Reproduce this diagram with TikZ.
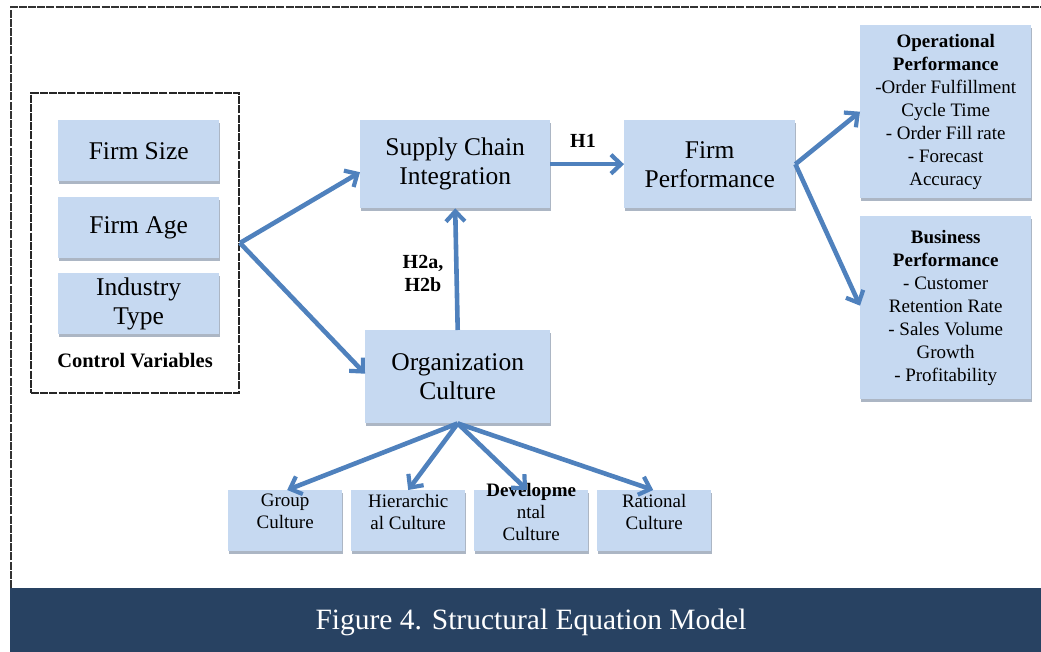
\documentclass[tikz,border=0pt]{standalone}
\usepackage{fontspec}
\setmainfont{Liberation Serif}
\usetikzlibrary{arrows.meta,shadows}
\definecolor{boxblue}{RGB}{198,217,241}
\definecolor{arrowblue}{RGB}{79,129,189}
\definecolor{bandcol}{RGB}{40,66,98}
\definecolor{shadecol}{RGB}{172,182,196}
\begin{document}
\begin{tikzpicture}[x=1pt,y=-1pt,
  box/.style={fill=boxblue, inner sep=0pt, align=center, anchor=north west,
    drop shadow={shadow xshift=1pt,shadow yshift=-2.5pt,fill=shadecol,opacity=1}},
  bigtxt/.style={font=\fontsize{25.5}{29}\selectfont},
  smalltxt/.style={font=\fontsize{19}{22}\selectfont, align=center},
  sidetxt/.style={font=\fontsize{19}{23}\selectfont},
  hlabel/.style={font=\fontsize{20}{23}\selectfont\bfseries, align=center},
  arr/.style={draw=arrowblue, line width=4.6pt,
    -{Straight Barb[length=10pt,width=19pt,line width=4.2pt]}},
  frame/.style={draw=black!80, line width=2pt, dash pattern=on 8pt off 1.2pt}
]
\useasboundingbox (0,0) rectangle (1041,652);
% outer frame and band
\draw[frame] (11,588) -- (11,7) -- (1041,7);
\fill[bandcol] (10,588) rectangle (1041,652);
\node[text=white, font=\fontsize{29.5}{33}\selectfont] (title) at (531,622) {Figure 4. Structural Equation Model};

% control variables
\node[draw=black!85, line width=2pt, dash pattern=on 8pt off 1.2pt, minimum width=208pt, minimum height=300pt, anchor=north west, inner sep=0pt] (ctrl) at (30,92) {};
\node[box, bigtxt, minimum width=161pt, minimum height=61pt] (size) at (58,120) {Firm Size};
\node[box, bigtxt, minimum width=161pt, minimum height=61pt] (age) at (58,197) {Firm Age};
\node[box, bigtxt, minimum width=161pt, minimum height=61pt] (ind) at (58,273) {Industry\\Type};
\node[font=\fontsize{20.5}{23}\selectfont\bfseries] (ctrllab) at (135,361) {Control Variables};

% main boxes
\node[box, bigtxt, minimum width=190pt, minimum height=88pt] (sci) at (360,120) {Supply Chain\\Integration};
\node[box, bigtxt, minimum width=171pt, minimum height=88pt] (fp) at (624,120) {Firm\\Performance};
\node[box, bigtxt, minimum width=185pt, minimum height=93pt] (org) at (365,330) {Organization\\Culture};

% right boxes
\node[box, sidetxt, minimum width=171pt, minimum height=173pt] (op) at (860,25)
  {\textbf{Operational}\\\textbf{Performance}\\-Order Fulfillment\\Cycle Time\\- Order Fill rate\\- Forecast\\Accuracy};
\node[box, sidetxt, minimum width=171pt, minimum height=183pt] (bp) at (860,216)
  {\textbf{Business}\\\textbf{Performance}\\- Customer\\Retention Rate\\- Sales Volume\\Growth\\- Profitability};

% culture types
\node[box, minimum width=114pt, minimum height=61pt] (grp) at (228,490) {};
\node[box, minimum width=114pt, minimum height=61pt] (hier) at (351,490) {};
\node[box, minimum width=114pt, minimum height=61pt] (dev) at (474,490) {};
\node[box, minimum width=114pt, minimum height=61pt] (rat) at (597,490) {};
\node[smalltxt] (grptxt) at ([yshift=9pt]grp.center) {Group\\Culture};
\node[smalltxt] (hiertxt) at ([yshift=9pt]hier.center) {Hierarchic\\al Culture};
\node[smalltxt] (devtxt) at ([yshift=9pt]dev.center) {\textbf{Developme}\\ntal\\Culture};
\node[smalltxt] (rattxt) at ([yshift=9pt]rat.center) {Rational\\Culture};

% labels
\node[hlabel] (h1) at (583,141) {H1};
\node[hlabel] (h2) at (423,273) {H2a,\\H2b};

% arrows
\draw[arr] (ctrl.east) -- ([yshift=-8pt]sci.west);
\draw[arr] (ctrl.east) -- ([yshift=3pt]org.west);
\draw[arr] (org.north) -- (sci.south);
\draw[arr] (sci.east) -- (fp.west);
\draw[arr] (fp.east) -- (op.west);
\draw[arr] (fp.east) -- ([yshift=2pt]bp.west);
\draw[arr] (org.south) -- ([xshift=2pt]grp.north);
\draw[arr] (org.south) -- (hier.north);
\draw[arr] (org.south) -- ([xshift=-4pt]dev.north);
\draw[arr] (org.south) -- ([xshift=-1pt]rat.north);
\end{tikzpicture}
\end{document}
